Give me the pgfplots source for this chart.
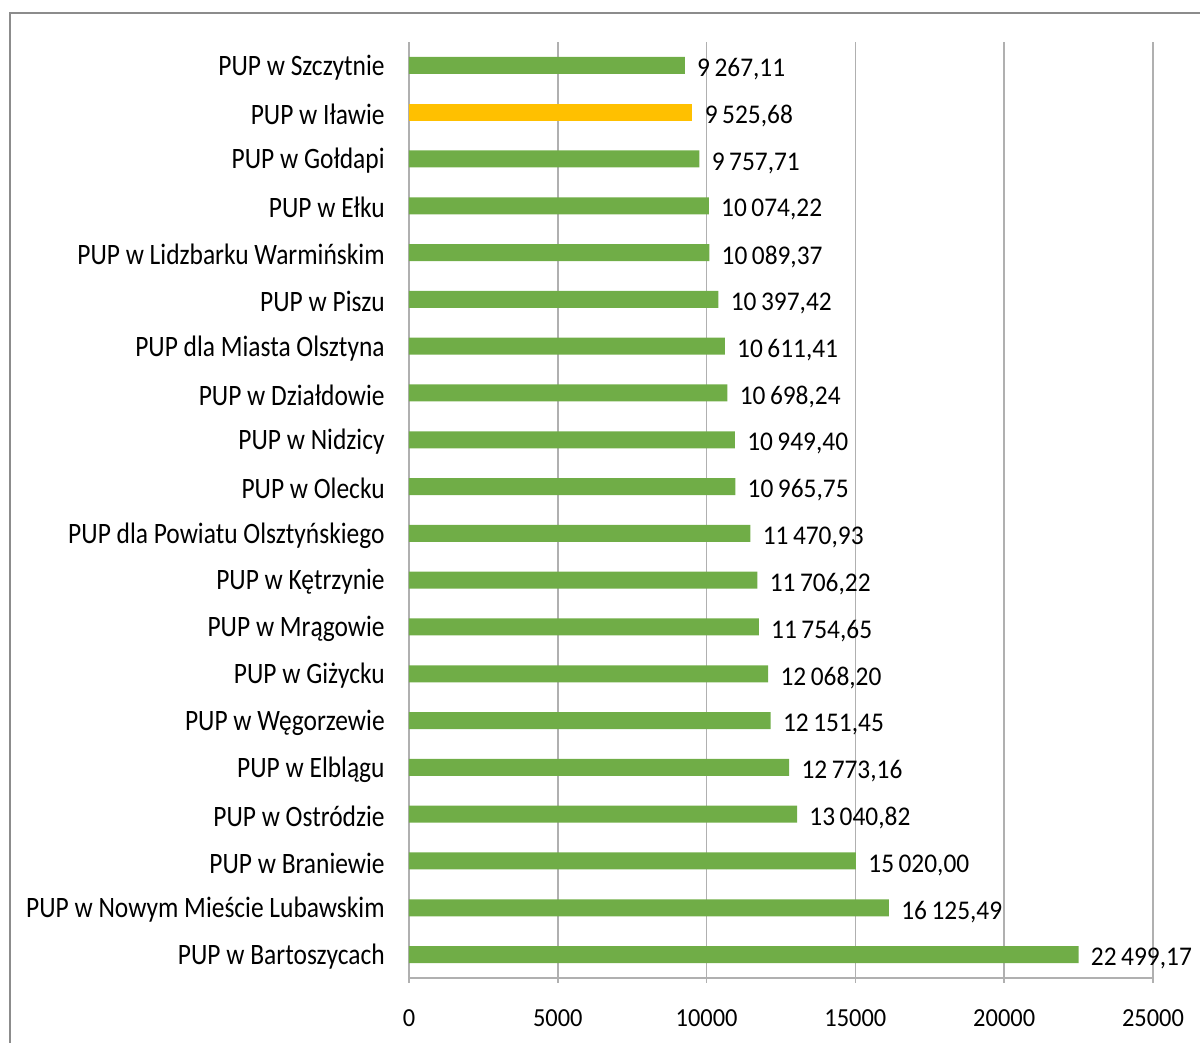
\documentclass[border=0pt]{standalone}
\usepackage{pgfplots}
\pgfplotsset{compat=1.18}
\usepackage{fontspec}
\setmainfont{Carlito}
\newfontfamily\catfont[FakeStretch=0.86]{Carlito}
\newfontfamily\numfont[FakeStretch=0.94]{Carlito}
\definecolor{bargreen}{HTML}{70AD47}
\definecolor{barorange}{HTML}{FFC000}
\definecolor{gridgray}{HTML}{B0B0B0}
\definecolor{framegray}{HTML}{8C8C8C}
\begin{document}
\begin{tikzpicture}[x=1pt,y=1pt]
\useasboundingbox (0,0) rectangle (600,521.5);
\draw[framegray, line width=1pt] (5,-2) -- (5,515) -- (602,515);
\begin{axis}[
  at={(204.5pt,32.5pt)}, anchor=south west,
  scale only axis, width=372pt, height=468pt,
  xbar, bar width=8.5pt, bar shift=0pt,
  xmin=0, xmax=25000, ymin=-0.5, ymax=19.5,
  xtick={0,5000,10000,15000,20000,25000},
  ytick={0,...,19},
  yticklabels={PUP w Bartoszycach,PUP w Nowym Mieście Lubawskim,PUP w Braniewie,PUP w Ostródzie,PUP w Elblągu,PUP w Węgorzewie,PUP w Giżycku,PUP w Mrągowie,PUP w Kętrzynie,PUP dla Powiatu Olsztyńskiego,PUP w Olecku,PUP w Nidzicy,PUP w Działdowie,PUP dla Miasta Olsztyna,PUP w Piszu,PUP w Lidzbarku Warmińskim,PUP w Ełku,PUP w Gołdapi,PUP w Iławie,PUP w Szczytnie},
  xmajorgrids, grid style={gridgray, line width=0.8pt},
  axis x line*=bottom, axis y line*=left,
  axis line style={gridgray, line width=0.8pt, -},
  tick align=outside,
  x tick style={gridgray, line width=0.8pt},
  major tick length=2.5pt,
  y tick style={draw=none},
  scaled x ticks=false,
  /pgf/number format/assume math mode=true,
  xticklabel style={font=\numfont\fontsize{13}{14}\selectfont, anchor=north, inner sep=0pt, yshift=-13pt, /pgf/number format/1000 sep={}},
  yticklabel style={font=\catfont\fontsize{14.8}{16}\selectfont, anchor=east, inner sep=0pt, xshift=-9.5pt, yshift=-1pt},
  point meta=x,
  nodes near coords,
  nodes near coords style={font=\numfont\fontsize{13.5}{14}\selectfont, anchor=west, inner sep=0pt, xshift=6pt, yshift=-2pt,
    /pgf/number format/.cd, fixed, fixed zerofill, precision=2, use comma, 1000 sep={\,}, assume math mode=true},
]
\addplot[fill=bargreen, draw=none] coordinates {
(22499.17,0) (16125.49,1) (15020.00,2) (13040.82,3) (12773.16,4)
(12151.45,5) (12068.20,6) (11754.65,7) (11706.22,8) (11470.93,9)
(10965.75,10) (10949.40,11) (10698.24,12) (10611.41,13) (10397.42,14)
(10089.37,15) (10074.22,16) (9757.71,17) (9267.11,19)};
\addplot[fill=barorange, draw=none] coordinates {(9525.68,18)};
\end{axis}
\end{tikzpicture}
\end{document}
